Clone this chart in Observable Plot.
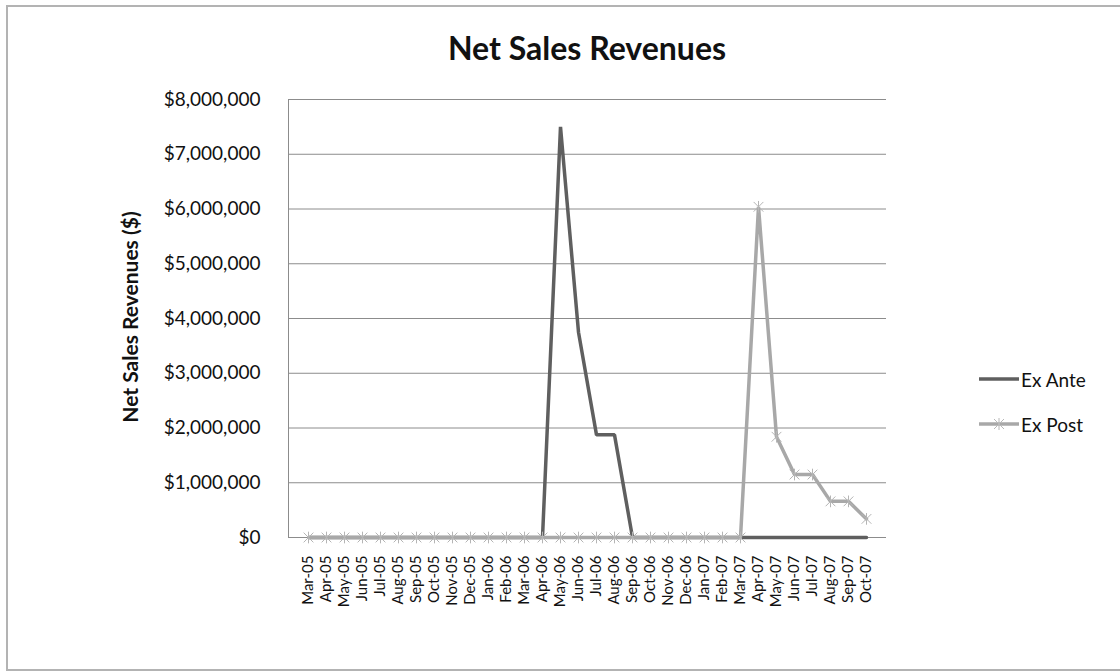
<!DOCTYPE html>
<html>
<head>
<meta charset="utf-8">
<script src="https://cdn.jsdelivr.net/npm/d3@7"></script>
<script src="https://cdn.jsdelivr.net/npm/@observablehq/plot@0.6"></script>
<style>
  html, body { margin: 0; padding: 0; background: #fff; }
  #wrap { position: relative; width: 1120px; height: 671px; overflow: hidden; font-family: Lato, "Open Sans", sans-serif; }
  #frame { position: absolute; left: 6px; top: 5px; width: 1200px; height: 666px; box-sizing: border-box; border: 2px solid #b3b3b3; }
  #chart { position: absolute; left: 0; top: 0; }
  #title { position: absolute; left: 0; width: 1174px; top: 28px; text-align: center; font-size: 32px; font-weight: bold; color: #111; line-height: 40px; }
  #ylabel { position: absolute; left: 129px; top: 317px; transform: translate(-50%, -50%) rotate(-90deg); white-space: nowrap; font-size: 21px; font-weight: bold; color: #111; }
  .leg { position: absolute; left: 978px; font-size: 19px; color: #111; display: flex; align-items: center; }
  .leg svg { margin-right: 1px; }
</style>
</head>
<body>
<div id="wrap">
  <div id="frame"></div>
  <div id="chart"></div>
  <div id="title">Net Sales Revenues</div>
  <div id="ylabel">Net Sales Revenues ($)</div>
  <div class="leg" style="top:367px"><svg width="42" height="24"><line x1="1" x2="41" y1="12" y2="12" stroke="#5f5f5f" stroke-width="3.5"/></svg>Ex Ante</div>
  <div class="leg" style="top:412px"><svg width="42" height="24"><line x1="1" x2="41" y1="12" y2="12" stroke="#a8a8a8" stroke-width="3.5"/><path d="M16,7L26,17M26,7L16,17M21,6L21,18" stroke="#b8b8b8" stroke-width="1"/></svg>Ex Post</div>
</div>
<script>
const months = ["Mar-05","Apr-05","May-05","Jun-05","Jul-05","Aug-05","Sep-05","Oct-05","Nov-05","Dec-05",
  "Jan-06","Feb-06","Mar-06","Apr-06","May-06","Jun-06","Jul-06","Aug-06","Sep-06","Oct-06","Nov-06","Dec-06",
  "Jan-07","Feb-07","Mar-07","Apr-07","May-07","Jun-07","Jul-07","Aug-07","Sep-07","Oct-07"];
const exAnte = [0,0,0,0,0,0,0,0,0,0,
  0,0,0,0,7500000,3750000,1875000,1875000,0,0,0,0,
  0,0,0,0,0,0,0,0,0,0];
const exPost = [0,0,0,0,0,0,0,0,0,0,
  0,0,0,0,0,0,0,0,0,0,0,0,
  0,0,0,6040000,1840000,1150000,1150000,660000,660000,340000];
const yTicks = [0,1000000,2000000,3000000,4000000,5000000,6000000,7000000,8000000];

const anteData = months.map((m, i) => ({month: m, value: exAnte[i]}));
const postData = months.map((m, i) => ({month: m, value: exPost[i]}));

const star = {
  draw(ctx, size) {
    const r = Math.sqrt(size) / 2;
    ctx.moveTo(-r, -r); ctx.lineTo(r, r);
    ctx.moveTo(r, -r); ctx.lineTo(-r, r);
    ctx.moveTo(0, -r * 1.2); ctx.lineTo(0, r * 1.2);
  }
};

const fmt = d => "$" + d3.format(",")(d);

const chart = Plot.plot({
  width: 1120,
  height: 671,
  marginLeft: 288,
  marginRight: 234,
  marginTop: 99,
  marginBottom: 134,
  style: {fontFamily: "Lato, 'Open Sans', sans-serif", background: "transparent", color: "#111"},
  x: {type: "point", domain: months, padding: 0.5, label: null},
  y: {domain: [0, 8000000], label: null},
  marks: [
    Plot.gridY(yTicks, {stroke: "#8c8c8c", strokeOpacity: 1, strokeWidth: 1}),
    Plot.axisY(yTicks, {tickFormat: fmt, tickSize: 0, tickPadding: 28, fontSize: 19, label: null}),
    Plot.frame({anchor: "left", stroke: "#8c8c8c"}),
    Plot.axisX({tickRotate: -90, tickSize: 0, tickPadding: 18, fontSize: 15, label: null}),
    Plot.line(anteData, {x: "month", y: "value", stroke: "#5f5f5f", strokeWidth: 3.5, strokeLinejoin: "miter"}),
    Plot.line(postData, {x: "month", y: "value", stroke: "#a8a8a8", strokeWidth: 3.5, strokeLinejoin: "miter"}),
    Plot.dot(postData, {x: "month", y: "value", symbol: star, r: 5.5, stroke: "#b5b5b5", strokeWidth: 1, fill: "none"})
  ]
});
document.getElementById("chart").appendChild(chart);
</script>
</body>
</html>
